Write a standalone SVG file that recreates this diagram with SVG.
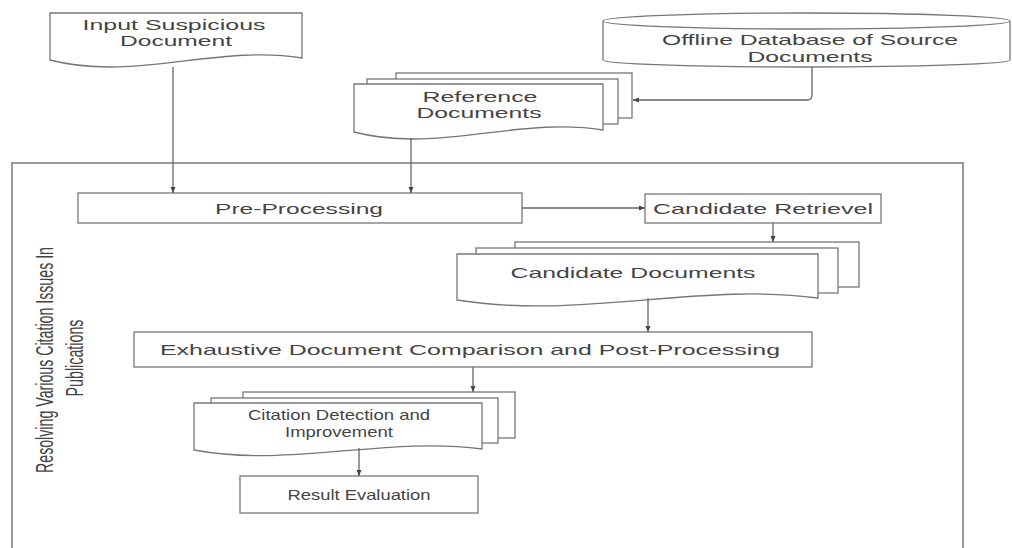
<svg xmlns="http://www.w3.org/2000/svg" width="1012" height="548" viewBox="0 0 1012 548">
<style>
.s{fill:#fff;stroke:#777;stroke-width:1.3}
.t{font-family:"Liberation Sans",Arial,sans-serif;font-size:15px;fill:#444;text-anchor:middle}
.c{fill:none;stroke:#666;stroke-width:1.3}
.frame{fill:none;stroke:#999;stroke-width:2}
</style>
<defs>
<marker id="a" markerWidth="8" markerHeight="8" refX="7" refY="4" orient="auto" markerUnits="userSpaceOnUse">
<path d="M1,1.5 L7,4 L1,6.5 Z" fill="#444"/>
</marker>
</defs>
<rect width="1012" height="548" fill="#fff"/>

<g id="container">
<path class="frame" d="M12,560 V163 H963 V560"/>
<text class="t" transform="translate(53,360) rotate(-90) scale(1,1.6)" textLength="226" lengthAdjust="spacingAndGlyphs">Resolving Various Citation Issues In</text>
<text class="t" transform="translate(83,358) rotate(-90) scale(1,1.6)" textLength="77" lengthAdjust="spacingAndGlyphs">Publications</text>
</g>

<g id="input">
<path class="s" d="M50,13 H302 V58 C218,44 134,82 50,60 Z"/>
<text class="t" x="174" y="30" textLength="183" lengthAdjust="spacingAndGlyphs">Input Suspicious</text>
<text class="t" x="176" y="46" textLength="112" lengthAdjust="spacingAndGlyphs">Document</text>
</g>

<g id="database">
<path class="s" d="M603,21 V60 A203.5,7 0 0 0 1010,60 V21"/>
<ellipse class="s" cx="806.5" cy="21" rx="203.5" ry="8"/>
<text class="t" x="810" y="45" textLength="296" lengthAdjust="spacingAndGlyphs">Offline Database of Source</text>
<text class="t" x="810" y="62" textLength="125" lengthAdjust="spacingAndGlyphs">Documents</text>
</g>

<g id="reference">
<rect class="s" x="396" y="73" width="236" height="45"/>
<rect class="s" x="367" y="79" width="251" height="45"/>
<path class="s" d="M354,84 H603 V130 C520,116 437,154 354,132 Z"/>
<text class="t" x="480" y="102" textLength="115" lengthAdjust="spacingAndGlyphs">Reference</text>
<text class="t" x="479" y="118" textLength="125" lengthAdjust="spacingAndGlyphs">Documents</text>
</g>

<g id="preprocessing">
<rect class="s" x="78" y="193" width="444" height="30"/>
<text class="t" x="299" y="214" textLength="168" lengthAdjust="spacingAndGlyphs">Pre-Processing</text>
</g>

<g id="retrieval">
<rect class="s" x="645" y="194" width="236" height="29"/>
<text class="t" x="763" y="214" textLength="220" lengthAdjust="spacingAndGlyphs">Candidate Retrievel</text>
</g>

<g id="candidates">
<rect class="s" x="515" y="242" width="344" height="45"/>
<rect class="s" x="476" y="248" width="362" height="45"/>
<path class="s" d="M457,254 H818 V298 C700,282 580,320 457,300 Z"/>
<text class="t" x="633" y="278" textLength="245" lengthAdjust="spacingAndGlyphs">Candidate Documents</text>
</g>

<g id="comparison">
<rect class="s" x="134" y="332" width="678" height="35"/>
<text class="t" x="470" y="355" textLength="620" lengthAdjust="spacingAndGlyphs">Exhaustive Document Comparison and Post-Processing</text>
</g>

<g id="citation">
<rect class="s" x="243" y="392" width="272" height="46"/>
<rect class="s" x="211" y="398" width="287" height="45"/>
<path class="s" d="M194,403 H482 V449 C386,436 290,468 194,450 Z"/>
<text class="t" x="339" y="420" textLength="182" lengthAdjust="spacingAndGlyphs">Citation Detection and</text>
<text class="t" x="339" y="437" textLength="108" lengthAdjust="spacingAndGlyphs">Improvement</text>
</g>

<g id="evaluation">
<rect class="s" x="240" y="476" width="238" height="37"/>
<text class="t" x="359" y="500" textLength="143" lengthAdjust="spacingAndGlyphs">Result Evaluation</text>
</g>

<g id="connectors">
<path class="c" d="M173,67 V193" marker-end="url(#a)"/>
<path class="c" d="M411,138 V193" marker-end="url(#a)"/>
<path class="c" d="M812,67 V95 Q812,100 807,100 H633" marker-end="url(#a)"/>
<path class="c" d="M522,208 H645" marker-end="url(#a)"/>
<path class="c" d="M773,223 V242" marker-end="url(#a)"/>
<path class="c" d="M648,298 V332" marker-end="url(#a)"/>
<path class="c" d="M473,367 V392" marker-end="url(#a)"/>
<path class="c" d="M359,448 V476" marker-end="url(#a)"/>
</g>
</svg>
